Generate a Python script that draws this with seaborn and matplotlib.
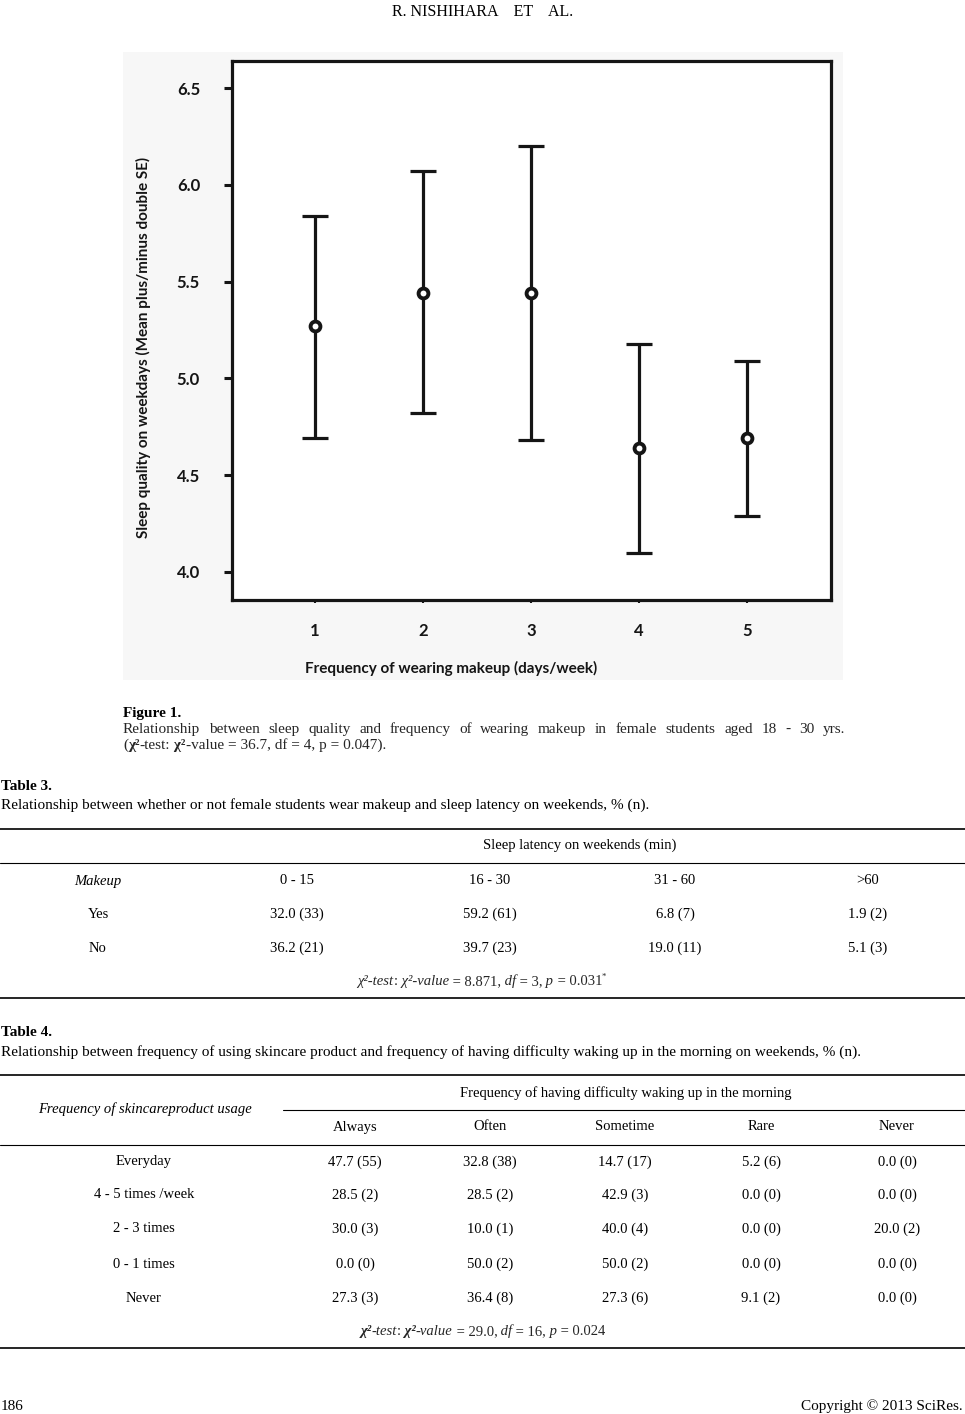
import numpy as np
import pandas as pd
import matplotlib
matplotlib.use("Agg")
import matplotlib.pyplot as plt
import seaborn as sns
from matplotlib.patches import Rectangle
from matplotlib.lines import Line2D

# page size in pixels (dpi 100)
W, H = 965, 1414

# Figure 1: sleep quality vs makeup frequency (mean +/- 2 SE)
freq = [1, 2, 3, 4, 5]
mean_quality = [5.27, 5.44, 5.44, 4.64, 4.69]
upper_2se = [5.84, 6.07, 6.20, 5.18, 5.09]
lower_2se = [4.69, 4.82, 4.68, 4.10, 4.29]
y_ticks = [4.0, 4.5, 5.0, 5.5, 6.0, 6.5]

# Table 3
t3_cols = ["0 - 15", "16 - 30", "31 - 60", ">60"]
t3_rows = ["Yes", "No"]
t3_vals = [["32.0 (33)", "59.2 (61)", "6.8 (7)", "1.9 (2)"],
           ["36.2 (21)", "39.7 (23)", "19.0 (11)", "5.1 (3)"]]

# Table 4
t4_cols = ["Always", "Often", "Sometime", "Rare", "Never"]
t4_rows = ["Everyday", "4 - 5 times /week", "2 - 3 times", "0 - 1 times", "Never"]
t4_vals = [["47.7 (55)", "32.8 (38)", "14.7 (17)", "5.2 (6)", "0.0 (0)"],
           ["28.5 (2)", "28.5 (2)", "42.9 (3)", "0.0 (0)", "0.0 (0)"],
           ["30.0 (3)", "10.0 (1)", "40.0 (4)", "0.0 (0)", "20.0 (2)"],
           ["0.0 (0)", "50.0 (2)", "50.0 (2)", "0.0 (0)", "0.0 (0)"],
           ["27.3 (3)", "36.4 (8)", "27.3 (6)", "9.1 (2)", "0.0 (0)"]]

sns.set_theme(style="ticks")
plt.rcParams["font.family"] = ["Liberation Serif", "DejaVu Serif"]
CHART_FONT = ["Lato", "DejaVu Sans"]
INK = "#151515"


def fx(x):
    return x / W


def fy(y):
    return 1 - y / H


fig = plt.figure(figsize=(W / 100, H / 100), dpi=100)
fig.patch.set_facecolor("white")
renderer = fig.canvas.get_renderer()

# light panel behind the chart image
fig.add_artist(Rectangle((fx(123), fy(680)), (843 - 123) / W, (680 - 52) / H,
                         transform=fig.transFigure, facecolor="#f7f7f7",
                         edgecolor="none", zorder=0))

ax = fig.add_axes([fx(232), fy(600), (831 - 232) / W, (600 - 61) / H])
ax.set_facecolor("white")
df = pd.DataFrame({"freq": freq, "mean": mean_quality,
                   "lo": lower_2se, "hi": upper_2se})
ax.errorbar(df["freq"], df["mean"],
            yerr=[df["mean"] - df["lo"], df["hi"] - df["mean"]],
            fmt="none", ecolor=INK, elinewidth=2.3, capsize=9.5, capthick=2.3,
            zorder=2)
sns.scatterplot(data=df, x="freq", y="mean", ax=ax, marker="o", s=50,
                color="white", edgecolor=INK, linewidth=2.8, zorder=3,
                legend=False)
ax.set_xlim(0.23, 5.78)
ax.set_ylim(3.855, 6.64)
ax.set_xticks(freq)
ax.set_yticks(y_ticks)
ax.set_xticklabels([str(f) for f in freq], fontfamily=CHART_FONT,
                   fontweight="bold", fontsize=12, color=INK)
ax.set_yticklabels([f"{v:.1f}" for v in y_ticks], fontfamily=CHART_FONT,
                   fontweight="bold", fontsize=12, color=INK)
ax.tick_params(axis="y", direction="out", length=6, width=2.2, pad=17, color=INK)
ax.tick_params(axis="x", direction="out", length=2.5, width=1.5, pad=14, color=INK)
ax.set_xlabel("")
ax.set_ylabel("")
for sp in ax.spines.values():
    sp.set_visible(True)
    sp.set_linewidth(2.3)
    sp.set_color(INK)

fig.text(fx(143), fy(347), "Sleep quality on weekdays (Mean plus/minus double SE)",
         rotation=90, ha="center", va="center", fontfamily=CHART_FONT,
         fontweight="bold", fontsize=11, color=INK)
fig.text(fx(451), fy(668), "Frequency of wearing makeup (days/week)",
         ha="center", va="center", fontfamily=CHART_FONT, fontweight="bold",
         fontsize=11, color=INK)


def put(x, y, s, ha="center", **kw):
    kw.setdefault("fontsize", 10.5)
    return fig.text(fx(x), fy(y), s, ha=ha, va="center", color="black", **kw)


def width_of(t):
    return t.get_window_extent(renderer).width


def runs(x, y, pieces, ha="center", size=10.5):
    """draw text pieces side by side on one baseline; pieces = (text, style, weight, sup)"""
    base = y + 4
    arts = []
    for text, style, weight, sup in pieces:
        sz = size * 0.6 if sup else size
        t = fig.text(0, fy(base - (6 if sup else 0)), text, ha="left",
                     va="baseline", fontsize=sz, fontstyle=style, fontweight=weight)
        arts.append(t)
    widths = [width_of(t) for t in arts]
    total = sum(widths)
    x0 = x - total / 2 if ha == "center" else x
    for t, w in zip(arts, widths):
        t.set_x(fx(x0))
        x0 += w


def justify(x0, x1, y, text, size=11):
    words = text.split(" ")
    arts = [fig.text(0, fy(y + 4), w, ha="left", va="baseline", fontsize=size)
            for w in words]
    widths = [width_of(t) for t in arts]
    gap = (x1 - x0 - sum(widths)) / (len(words) - 1)
    xpos = x0
    for t, w in zip(arts, widths):
        t.set_x(fx(xpos))
        xpos += w + gap


def hline(y, x0=0, x1=W, lw=1.2):
    fig.add_artist(Line2D([fx(x0), fx(x1)], [fy(y), fy(y)],
                          transform=fig.transFigure, color="black", lw=lw))


# running header / footer
put(483, 12, "R. NISHIHARA    ET    AL.", fontsize=11.5)
put(1, 1406, "186", ha="left", fontsize=11)
put(963, 1406, "Copyright \u00a9 2013 SciRes.", ha="right", fontsize=11)

# figure caption
put(123, 713, "Figure 1.", ha="left", fontweight="bold", fontsize=11)
justify(123, 845, 729,
        "Relationship between sleep quality and frequency of wearing makeup "
        "in female students aged 18 - 30 yrs.")
runs(123, 745, [("(", "normal", "normal", False),
                ("\u03c7\u00b2", "normal", "bold", False),
                ("-test:", "normal", "normal", False),
                (" \u03c7\u00b2", "normal", "bold", False),
                ("-value = 36.7, df = 4, p = 0.047).", "normal", "normal", False)],
     ha="left", size=11)

# Table 3
put(1, 787, "Table 3.", ha="left", fontweight="bold", fontsize=11)
put(1, 805, "Relationship between whether or not female students wear makeup "
    "and sleep latency on weekends, % (n).", ha="left", fontsize=11)
hline(829)
put(580, 845, "Sleep latency on weekends (min)")
hline(863, lw=0.8)
t3_x = [297, 490, 675, 868]
put(98, 881, "Makeup", fontstyle="italic")
for cx, c in zip(t3_x, t3_cols):
    put(cx, 881, c)
for ry, r, vals in zip([914, 948], t3_rows, t3_vals):
    put(98, ry, r)
    for cx, v in zip(t3_x, vals):
        put(cx, ry, v)
runs(482, 981, [("\u03c7\u00b2-test", "italic", "normal", False),
                (":", "normal", "normal", False),
                (" \u03c7\u00b2-value", "italic", "normal", False),
                (" = 8.871,", "normal", "normal", False),
                (" df", "italic", "normal", False),
                (" = 3,", "normal", "normal", False),
                (" p", "italic", "normal", False),
                (" = 0.031", "normal", "normal", False),
                ("*", "normal", "normal", True)])
hline(998)

# Table 4
put(1, 1032, "Table 4.", ha="left", fontweight="bold", fontsize=11)
put(1, 1052, "Relationship between frequency of using skincare product and "
    "frequency of having difficulty waking up in the morning on weekends, % (n).",
    ha="left", fontsize=11)
hline(1075)
put(626, 1093, "Frequency of having difficulty waking up in the morning")
hline(1110, x0=283, lw=0.8)
put(145, 1109, "Frequency of skincareproduct usage", fontstyle="italic")
t4_x = [355, 490, 625, 761, 897]
for cx, c in zip(t4_x, t4_cols):
    put(cx, 1127, c)
hline(1145, lw=0.8)
for ry, r, vals in zip([1162, 1195, 1229, 1264, 1298], t4_rows, t4_vals):
    put(144, ry, r)
    for cx, v in zip(t4_x, vals):
        put(cx, ry, v)
runs(483, 1331, [("\u03c7\u00b2", "italic", "bold", False),
                 ("-test", "italic", "normal", False),
                 (":", "normal", "normal", False),
                 (" \u03c7\u00b2", "italic", "bold", False),
                 ("-value", "italic", "normal", False),
                 (" = 29.0,", "normal", "normal", False),
                 (" df", "italic", "normal", False),
                 (" = 16,", "normal", "normal", False),
                 (" p", "italic", "normal", False),
                 (" = 0.024", "normal", "normal", False)])
hline(1348)

fig.savefig("out.png", dpi=100, facecolor="white")
